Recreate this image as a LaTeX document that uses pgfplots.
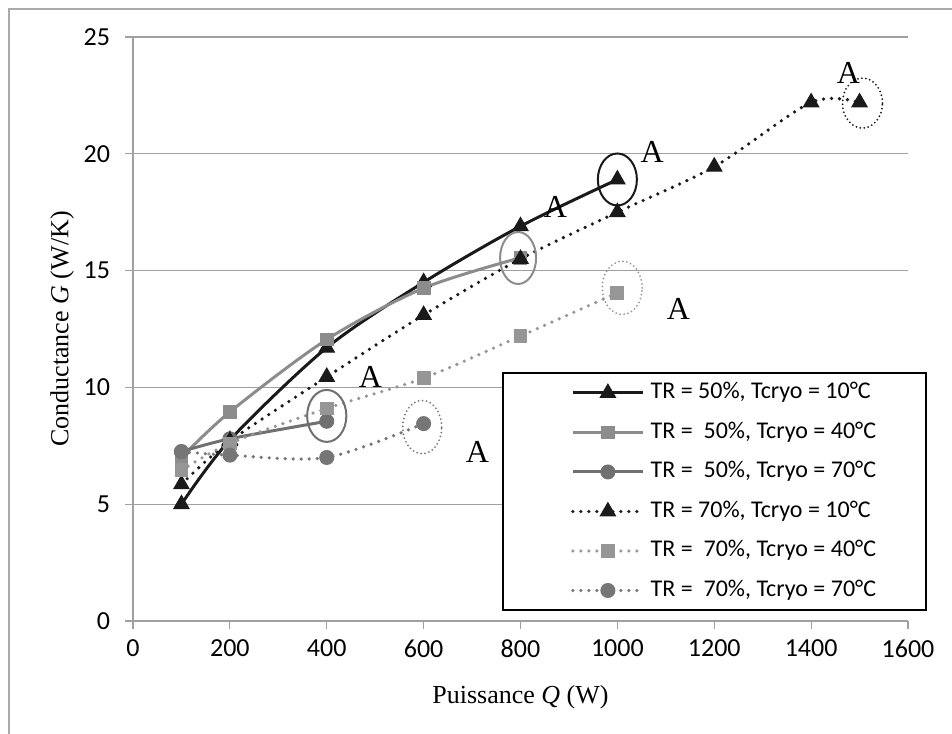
\documentclass[border=0pt]{standalone}
\usepackage{pgfplots}
\pgfplotsset{compat=1.18}
\usepackage{fontspec}
\setmainfont{Carlito}
\newfontfamily\tnr{Liberation Serif}
\definecolor{cblack}{RGB}{26,26,26}
\definecolor{cgsq}{RGB}{140,140,140}
\definecolor{cgci}{RGB}{112,112,112}
\definecolor{cgsql}{RGB}{150,150,150}
\definecolor{cgcil}{RGB}{118,118,118}
\definecolor{gridc}{RGB}{160,160,160}
\definecolor{borderc}{RGB}{170,170,170}
\begin{document}
\begin{tikzpicture}
\useasboundingbox (-66.5pt,-56pt) rectangle (409.5pt,310.5pt);
\draw[borderc, line width=0.6pt] (-62pt,-60pt) -- (-62pt,306pt) -- (412pt,306pt);
\begin{axis}[
  at={(0,0)}, anchor=south west,
  scale only axis, width=387.5pt, height=292pt,
  xmin=0, xmax=1600, ymin=0, ymax=25,
  xtick={0,200,...,1600}, ytick={0,5,...,25},
  axis x line=bottom, axis y line=left,
  axis line style={-, gridc, line width=0.6pt},
  ymajorgrids, grid style={gridc, line width=0.6pt},
  tick align=outside, major tick length=4pt,
  tick style={gridc, line width=0.6pt},
  ticklabel style={font=\fontsize{13}{15}\selectfont},
  /pgf/number format/assume math mode=true,
  /pgf/number format/1000 sep={},
  xticklabel style={yshift=-2pt},
  yticklabel style={xshift=-4pt},
  every axis x label/.style={at={(axis description cs:0.5,0)}, anchor=center, yshift=-38pt},
  every axis y label/.style={at={(axis description cs:0,0.5)}, anchor=center, xshift=-35.5pt, rotate=90},
  xlabel={\tnr\fontsize{13}{15}\selectfont Puissance \textit{Q} (W)},
  ylabel={\tnr\fontsize{13}{15}\selectfont Conductance \textit{G} (W/K)},
  legend style={at={(axis cs:762,10.66)}, anchor=north west, draw=black, line width=1pt,
    fill=white, font=\fontsize{12}{14}\selectfont, inner xsep=25pt, inner ysep=4pt,
    nodes={inner sep=0pt, text height=9pt, text depth=3pt},
    row sep=7.75pt, /tikz/every odd column/.append style={column sep=3pt}},
  legend cell align=left,
  legend image code/.code={\path (-9pt,0pt); \draw[mark repeat=2, mark phase=2, #1] plot coordinates {(0pt,0pt) (17.5pt,0pt) (35pt,0pt)};},
]
\addplot[cblack, line width=1.5pt, smooth, mark=triangle*, mark size=4.4pt, mark options={solid, fill=cblack, line width=0.5pt}]
  coordinates {(100,5.0)(200,7.75)(400,11.7)(600,14.5)(800,16.9)(1000,18.9)};
\addlegendentry{TR = 50\%, Tcryo = 10°C}
\addplot[cgsq, line width=1.5pt, smooth, mark=square*, mark size=3.2pt, mark options={solid, fill=cgsq, line width=0.5pt}]
  coordinates {(100,7.0)(200,8.95)(400,12.05)(600,14.25)(800,15.55)};
\addlegendentry{TR =\ \ 50\%, Tcryo = 40°C}
\addplot[cgci, line width=1.5pt, smooth, mark=*, mark size=3.5pt, mark options={solid, fill=cgci, line width=0.5pt}]
  coordinates {(100,7.25)(200,7.8)(400,8.55)};
\addlegendentry{TR =\ \ 50\%, Tcryo = 70°C}
\addplot[cblack, line width=1.8pt, line cap=round, dash pattern=on 0pt off 4pt, smooth, mark=triangle*, mark size=4.4pt, mark options={solid, fill=cblack, line width=0.5pt}]
  coordinates {(100,5.85)(200,7.7)(400,10.45)(600,13.1)(800,15.5)(1000,17.5)(1200,19.45)(1400,22.2)(1500,22.2)};
\addlegendentry{TR = 70\%, Tcryo = 10°C}
\addplot[cgsql, line width=1.8pt, line cap=round, dash pattern=on 0pt off 4pt, smooth, mark=square*, mark size=3.2pt, mark options={solid, fill=cgsql, line width=0.5pt}]
  coordinates {(100,6.45)(200,7.6)(400,9.1)(600,10.4)(800,12.2)(1000,14.05)};
\addlegendentry{TR =\ \ 70\%, Tcryo = 40°C}
\addplot[cgcil, line width=1.8pt, line cap=round, dash pattern=on 0pt off 4pt, smooth, mark=*, mark size=3.5pt, mark options={solid, fill=cgcil, line width=0.5pt}]
  coordinates {(100,7.25)(200,7.1)(400,7.0)(600,8.45)};
\addlegendentry{TR =\ \ 70\%, Tcryo = 70°C}
% annotations
\draw[cblack, line width=1pt] (axis cs:1000,18.9) ellipse [x radius=9.75pt, y radius=13pt];
\draw[cgsq, line width=1pt] (axis cs:795,15.54) ellipse [x radius=9pt, y radius=13pt];
\draw[cgci, line width=1pt] (axis cs:400,8.78) ellipse [x radius=9.8pt, y radius=13pt];
\draw[cgcil, line width=1pt, line cap=round, dash pattern=on 0pt off 2pt] (axis cs:597,8.3) ellipse [x radius=9.75pt, y radius=13.3pt];
\draw[cgsql, line width=1pt, line cap=round, dash pattern=on 0pt off 2pt] (axis cs:1010,14.26) ellipse [x radius=10pt, y radius=13.3pt];
\draw[cblack, line width=1pt, line cap=round, dash pattern=on 0pt off 2pt] (axis cs:1506,22.17) ellipse [x radius=10pt, y radius=12.5pt];
\node[font=\tnr\fontsize{16}{18}\selectfont] at (axis cs:872,17.72) {A};
\node[font=\tnr\fontsize{16}{18}\selectfont] at (axis cs:1072,20.08) {A};
\node[font=\tnr\fontsize{16}{18}\selectfont] at (axis cs:1126,13.36) {A};
\node[font=\tnr\fontsize{16}{18}\selectfont] at (axis cs:490,10.45) {A};
\node[font=\tnr\fontsize{16}{18}\selectfont] at (axis cs:711,7.23) {A};
\node[font=\tnr\fontsize{16}{18}\selectfont] at (axis cs:1477,23.46) {A};
\end{axis}
\end{tikzpicture}
\end{document}
